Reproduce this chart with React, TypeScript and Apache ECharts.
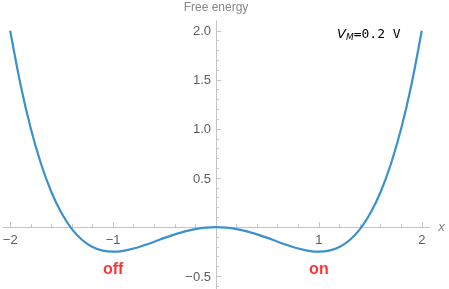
import React, { useEffect, useRef } from "react";
import * as echarts from "echarts";

const xs = [-2.0, -1.9, -1.8, -1.7, -1.6, -1.5, -1.4, -1.3, -1.2, -1.1, -1.0, -0.9, -0.8, -0.7, -0.6, -0.5, -0.4, -0.3, -0.2, -0.1, 0.0,
  0.1, 0.2, 0.3, 0.4, 0.5, 0.6, 0.7, 0.8, 0.9, 1.0, 1.1, 1.2, 1.3, 1.4, 1.5, 1.6, 1.7, 1.8, 1.9, 2.0];
const energy = [2.0, 1.453, 1.004, 0.643, 0.358, 0.141, -0.020, -0.131, -0.202, -0.239, -0.25, -0.241, -0.218, -0.185, -0.148, -0.109, -0.074, -0.043, -0.020, -0.005, 0.0,
  -0.005, -0.020, -0.043, -0.074, -0.109, -0.148, -0.185, -0.218, -0.241, -0.25, -0.239, -0.202, -0.131, -0.020, 0.141, 0.358, 0.643, 1.004, 1.453, 2.0];
const xMajorTicks = [-2, -1, 1, 2];
const xMinorTicks = [-1.8, -1.6, -1.4, -1.2, -0.8, -0.6, -0.4, -0.2, 0.2, 0.4, 0.6, 0.8, 1.2, 1.4, 1.6, 1.8];
const yMajorTicks = [-0.5, 0.5, 1.0, 1.5, 2.0];
const yMinorTicks = [-0.6, -0.4, -0.3, -0.2, -0.1, 0.1, 0.2, 0.3, 0.4, 0.6, 0.7, 0.8, 0.9, 1.1, 1.2, 1.3, 1.4, 1.6, 1.7, 1.8, 1.9];
const stateLabels = [{ x: -1, y: -0.42, text: "off" }, { x: 1, y: -0.42, text: "on" }];

const AXIS = "#c4c4c4";
const LABEL = "#333333";

const fmtNum = (v: number, dec: number) => {
  const s = Math.abs(v).toFixed(dec);
  return v < 0 ? "\u2212" + s : s;
};

export default function App() {
  const ref = useRef<HTMLDivElement>(null);
  useEffect(() => {
    const chart = echarts.init(ref.current!, undefined, { renderer: "svg" });
    const baseX = {
      type: "value" as const,
      min: -2.07,
      max: 2.08,
      position: "bottom" as const,
      splitLine: { show: false },
      axisLabel: { show: false },
    };
    const baseY = {
      type: "value" as const,
      min: -0.63,
      max: 2.1,
      position: "left" as const,
      splitLine: { show: false },
      axisLabel: { show: false },
    };
    const tickLabel = {
      show: true,
      color: LABEL,
      fontSize: 13,
      fontFamily: "Liberation Sans",
      formatter: (p: any) => p.name,
    };
    chart.setOption({
      animation: false,
      grid: { left: 3, top: 21, width: 427, height: 268, containLabel: false, outerBoundsMode: "none" },
      xAxis: [
        {
          ...baseX,
          name: "x",
          nameLocation: "end",
          nameGap: 8,
          nameTextStyle: { color: "#888", fontStyle: "italic", fontSize: 12, fontFamily: "DejaVu Sans", verticalAlign: "middle" },
          axisLine: { onZero: true, lineStyle: { color: AXIS, width: 1 } },
          axisTick: { show: true, inside: true, length: 5, customValues: xMajorTicks, lineStyle: { color: AXIS } },
        },
        {
          ...baseX,
          axisLine: { show: false, onZero: true },
          axisTick: { show: true, inside: true, length: 3, customValues: xMinorTicks, lineStyle: { color: AXIS } },
        },
      ],
      yAxis: [
        {
          ...baseY,
          name: "Free energy",
          nameLocation: "end",
          nameGap: 8,
          nameTextStyle: { color: "#888", fontSize: 12, fontFamily: "Liberation Sans", align: "center" },
          axisLine: { onZero: true, lineStyle: { color: AXIS, width: 1 } },
          axisTick: { show: true, inside: true, length: 5, customValues: yMajorTicks, lineStyle: { color: AXIS } },
        },
        {
          ...baseY,
          axisLine: { show: false, onZero: true },
          axisTick: { show: true, inside: true, length: 3, customValues: yMinorTicks, lineStyle: { color: AXIS } },
        },
      ],
      series: [
        {
          type: "line",
          data: xs.map((x, i) => [x, energy[i]]),
          smooth: 0.3,
          showSymbol: false,
          lineStyle: { color: "#3a91cd", width: 2.2 },
          xAxisIndex: 0,
          yAxisIndex: 0,
          z: 3,
        },
        {
          type: "scatter",
          symbolSize: 0,
          silent: true,
          data: xMajorTicks.map((v) => ({ value: [v, 0], name: fmtNum(v, 0) })),
          label: { ...tickLabel, position: "bottom", distance: 6 },
        },
        {
          type: "scatter",
          symbolSize: 0,
          silent: true,
          data: yMajorTicks.map((v) => ({ value: [0, v], name: fmtNum(v, 1) })),
          label: { ...tickLabel, position: "left", distance: 5 },
        },
        {
          type: "scatter",
          symbolSize: 0,
          silent: true,
          data: stateLabels.map((d) => ({ value: [d.x, d.y], name: d.text })),
          label: {
            show: true,
            position: "inside",
            formatter: (p: any) => p.name,
            color: "#ff0000",
            fontWeight: "bold",
            fontSize: 16,
            fontFamily: "Liberation Sans",
          },
        },
      ],
      graphic: [
        {
          type: "text",
          left: 337,
          top: 27,
          style: {
            text: "{v|V}{s|M}{t|=0.2 V}",
            rich: {
              v: { fontFamily: "DejaVu Sans", fontStyle: "italic", fontSize: 13, fill: "#000" },
              s: { fontFamily: "DejaVu Sans", fontStyle: "italic", fontSize: 9, fill: "#000", padding: [6, 0, 0, 0] },
              t: { fontFamily: "DejaVu Sans Mono", fontSize: 13, fill: "#000" },
            },
          },
        },
      ],
    });
    return () => chart.dispose();
  }, []);
  return <div ref={ref} style={{ position: "fixed", left: 0, top: 0, width: 449, height: 289 }} />;
}
